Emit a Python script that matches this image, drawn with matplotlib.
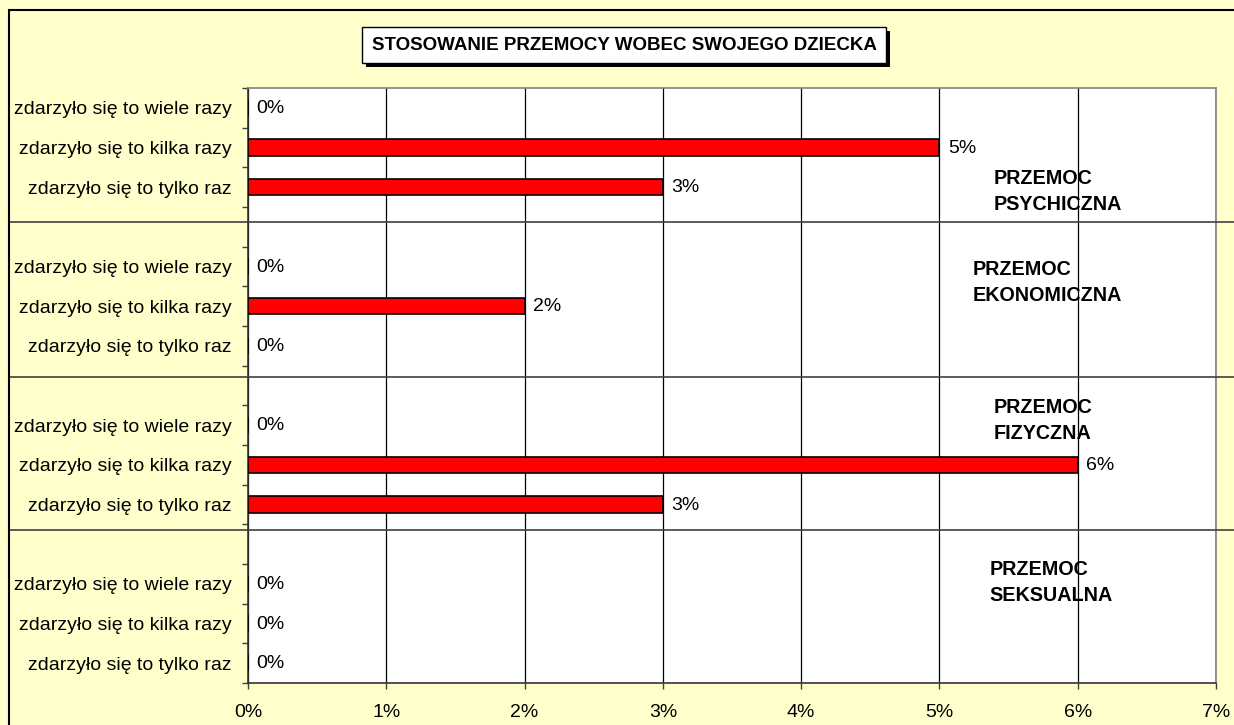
import matplotlib
matplotlib.use("Agg")
import matplotlib.pyplot as plt
import matplotlib.transforms as mtransforms
import matplotlib.patheffects as pe
from matplotlib.patches import Rectangle

plt.rcParams['font.family'] = ['Liberation Sans', 'DejaVu Sans']

title = "STOSOWANIE PRZEMOCY WOBEC SWOJEGO DZIECKA"
categories = ["zdarzyło się to wiele razy", "zdarzyło się to kilka razy", "zdarzyło się to tylko raz", "",
              "zdarzyło się to wiele razy", "zdarzyło się to kilka razy", "zdarzyło się to tylko raz", "",
              "zdarzyło się to wiele razy", "zdarzyło się to kilka razy", "zdarzyło się to tylko raz", "",
              "zdarzyło się to wiele razy", "zdarzyło się to kilka razy", "zdarzyło się to tylko raz"]
values = [0, 5, 3, None,
          0, 2, 0, None,
          0, 6, 3, None,
          0, 0, 0]
group_labels = ["PRZEMOC\nPSYCHICZNA", "PRZEMOC\nEKONOMICZNA", "PRZEMOC\nFIZYCZNA", "PRZEMOC\nSEKSUALNA"]
x_ticks = [0, 1, 2, 3, 4, 5, 6, 7]
x_tick_labels = ["0%", "1%", "2%", "3%", "4%", "5%", "6%", "7%"]

W, H = 1234, 725
fig = plt.figure(figsize=(W / 100, H / 100), dpi=100)
fig.patch.set_facecolor("#FFFFCC")

# outer chart border (top/left visible)
fig.add_artist(Rectangle((9 / W, -0.1), 1.2, (H - 10) / H + 0.1, transform=fig.transFigure,
                         fill=False, edgecolor="black", lw=1.5))

ax = fig.add_axes([248 / W, 1 - 683 / H, (1216 - 248) / W, (683 - 88) / H])
ax.set_facecolor("white")

n = len(categories)
pos = list(range(n))
bar_pos = [p for p, v in zip(pos, values) if v is not None]
bar_vals = [v for v in values if v is not None]
ax.barh(bar_pos, bar_vals, height=0.41, color="#FF0000", edgecolor="black", linewidth=1.2, zorder=3)

for p, v in zip(bar_pos, bar_vals):
    ax.annotate(f"{v}%", (v, p), xytext=(6, -0.5), textcoords="offset points",
                va="center", ha="left", fontsize=14, zorder=4)

ax.set_xlim(0, 7)
ax.set_ylim(n - 0.5, -0.5)
ax.set_xticks(x_ticks)
ax.set_xticklabels(x_tick_labels, fontsize=14)
ax.set_yticks(pos)
ax.set_yticklabels(categories, fontsize=14)
ax.set_yticks([i - 0.5 for i in range(n + 1)], minor=True)
ax.tick_params(axis="y", which="major", length=0, pad=11.5)
ax.tick_params(axis="y", which="minor", length=4.5, color="#404040", width=1)
ax.tick_params(axis="x", which="major", length=4.5, pad=10.5, color="#404040", width=1)
ax.xaxis.grid(True, color="black", lw=0.9, zorder=0)
ax.set_axisbelow(True)
for s in ["top", "right"]:
    ax.spines[s].set_color("#808080")
    ax.spines[s].set_linewidth(1.2)
for s in ["left", "bottom"]:
    ax.spines[s].set_color("#333333")
    ax.spines[s].set_linewidth(1.2)

# group separators across the whole sheet
blend = mtransforms.blended_transform_factory(fig.transFigure, ax.transData)
for yv in [2.88, 6.78, 10.64]:
    ax.plot([9 / W, 1.0], [yv, yv], transform=blend, color="#404040", lw=1.2, clip_on=False, zorder=5)

# group labels (top-left anchor in data coords)
group_pos = [(5.39, 1.55), (5.24, 3.84), (5.39, 7.32), (5.36, 11.40)]
for (gx, gy), lab in zip(group_pos, group_labels):
    ax.text(gx, gy, lab, fontsize=14.2, fontweight="bold", va="top", ha="left",
            linespacing=1.45, zorder=6)

# title with shadow box
tt = fig.text(624 / W, 1 - 45 / H, title, fontsize=13.5, fontweight="bold", ha="center", va="center",
              bbox=dict(boxstyle="square,pad=0.5", facecolor="white", edgecolor="black", lw=1),
              zorder=10)
tt.get_bbox_patch().set_path_effects([pe.SimplePatchShadow(offset=(3, -3), shadow_rgbFace="black", alpha=1.0),
                                      pe.Normal()])

fig.savefig("out.png", dpi=100, facecolor=fig.get_facecolor())
